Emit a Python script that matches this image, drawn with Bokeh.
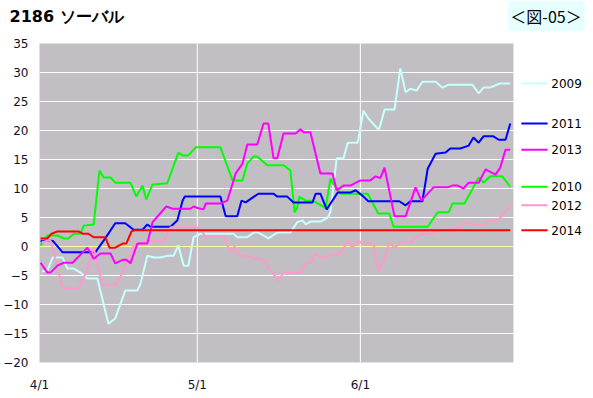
from bokeh.plotting import figure
from bokeh.models import Range1d, FixedTicker, BoxAnnotation, Label
from bokeh.embed import file_html
from bokeh.resources import INLINE
from bokeh.core.properties import value

TITLE = "2186 ソーバル"
FIG_LABEL = "＜図-05＞"
Y_TICKS = [-20, -15, -10, -5, 0, 5, 10, 15, 20, 25, 30, 35]
X_TICK_DAYS = [0, 30, 61]
X_TICK_LABELS = ["4/1", "5/1", "6/1"]
X_LAST_DAY = 90.1  # right edge of the data area (days since 4/1)

# days since 4/1 and values, per year
d2009 = [0.5, 1.5, 2.5, 4.4, 5.3, 6.5, 7.8, 9.1, 11.0, 13.1, 14.4, 16.3, 18.6, 19.2, 20.5, 21.7, 23.0, 24.3, 25.5, 26.4,
         27.4, 28.3, 29.3, 30.6, 36.9, 37.6, 39.5, 40.7, 41.6, 43.5, 45.2, 47.7, 49.0, 50.0, 50.6, 51.5, 53.4, 54.8, 55.3, 56.5,
         57.8, 58.6, 60.5, 61.6, 62.5, 64.3, 64.6, 65.6, 67.5, 68.6, 69.6, 70.5, 71.7, 72.8, 75.3, 76.6, 77.8, 82.3, 83.5, 84.4,
         85.7, 86.7, 87.6, 89.5]
v2009 = [-4.3, -4.1, -1.9, -1.9, -3.8, -3.8, -4.5, -5.5, -5.5, -13.3, -12.4, -7.6, -7.6, -6.4, -1.6, -1.9, -1.9, -1.6, -1.6, 0.2,
         -3.3, -3.3, 1.6, 2.2, 2.2, 1.6, 1.6, 2.4, 2.4, 1.4, 2.4, 2.4, 4.2, 4.5, 3.8, 4.3, 4.3, 5.0, 5.9, 15.2,
         15.2, 17.9, 17.9, 23.4, 22.1, 20.3, 20.3, 23.6, 23.6, 30.7, 26.6, 27.2, 26.9, 28.4, 28.4, 27.4, 27.9, 27.9, 26.4, 27.4,
         27.4, 27.8, 28.1, 28.1]

d2010 = [0.2, 1.5, 3.4, 4.6, 5.5, 6.5, 7.8, 8.4, 10.3, 11.4, 12.2, 13.5, 14.4, 17.3, 18.4, 19.6, 20.3, 21.5, 24.3, 26.4,
         27.2, 28.3, 29.7, 34.4, 36.7, 38.6, 39.5, 40.7, 41.4, 43.3, 46.4, 47.7, 48.5, 49.0, 49.4, 50.6, 51.9, 53.0, 54.4, 55.3,
         56.3, 57.2, 62.4, 64.4, 66.5, 67.3, 73.8, 75.7, 77.8, 78.5, 80.8, 83.5, 84.4, 85.7, 88.0, 89.5]
v2010 = [0.2, 1.9, 1.9, 1.4, 1.4, 2.2, 2.2, 3.6, 3.8, 13.1, 11.9, 11.9, 11.0, 11.0, 8.6, 10.5, 8.1, 10.7, 10.9, 16.2,
         15.7, 15.7, 17.1, 17.1, 11.4, 11.4, 14.3, 15.5, 15.5, 14.0, 14.0, 13.1, 5.9, 6.7, 8.6, 7.9, 7.9, 7.4, 6.6, 11.7,
         10.2, 9.1, 9.1, 5.7, 5.7, 3.4, 3.4, 5.9, 5.9, 7.4, 7.4, 11.9, 11.0, 12.1, 12.1, 10.3]

d2011 = [0.2, 2.5, 4.4, 10.6, 12.5, 14.4, 16.3, 17.9, 19.6, 20.5, 21.1, 24.9, 26.2, 27.2, 27.6, 34.4, 35.4, 37.6, 38.4, 39.2,
         41.6, 44.5, 45.2, 47.1, 48.3, 51.9, 52.5, 53.4, 54.6, 56.7, 59.1, 60.1, 61.6, 62.5, 68.4, 69.6, 70.5, 72.8, 73.8, 75.3,
         77.2, 78.1, 80.0, 81.6, 82.5, 83.5, 84.4, 86.3, 87.3, 88.6, 89.5]
v2011 = [0.9, 1.0, -1.0, -1.0, 1.4, 4.0, 4.0, 2.9, 2.9, 3.8, 3.4, 3.4, 4.5, 7.9, 8.6, 8.6, 5.2, 5.2, 7.9, 7.6,
         9.1, 9.1, 8.6, 8.6, 7.6, 7.6, 9.1, 9.1, 6.4, 9.3, 9.3, 9.7, 8.6, 7.8, 7.8, 7.1, 7.8, 7.8, 13.4, 16.0,
         16.2, 16.9, 16.9, 17.4, 18.8, 17.9, 19.0, 19.0, 18.4, 18.4, 21.2]

d2012 = [0.4, 1.5, 2.1, 2.5, 3.4, 4.4, 7.4, 8.4, 9.3, 10.3, 11.2, 12.0, 14.4, 15.3, 16.9, 17.9, 18.8, 19.8, 23.6, 24.9,
         30.0, 31.0, 31.6, 35.0, 36.3, 37.1, 38.0, 39.9, 40.7, 42.2, 44.3, 45.4, 46.4, 49.6, 50.6, 51.5, 52.5, 53.4, 54.7, 55.3,
         56.7, 57.6, 58.6, 59.5, 60.5, 61.4, 63.5, 64.4, 65.6, 66.5, 67.5, 68.6, 70.5, 71.7, 73.0, 74.7, 76.2, 78.1, 79.7, 80.6,
         81.6, 82.5, 84.8, 85.4, 87.1, 88.0, 89.5]
v2012 = [0.7, 1.0, 1.0, -0.2, -3.6, -7.2, -7.2, -5.5, -3.3, -0.2, -3.8, -6.7, -6.7, -5.5, -2.1, 0.2, 0.2, 0.9, 0.9, 3.3,
         3.3, 2.4, 1.7, 1.7, -1.0, 0.0, -1.6, -1.6, -2.1, -2.1, -4.5, -5.9, -4.5, -4.5, -2.9, -2.9, -1.2, -1.9, -1.9, -1.4,
         -1.4, -0.7, 0.9, -0.2, 1.0, 0.5, 0.5, -4.3, -2.0, 0.7, -0.3, 0.7, 0.7, 1.7, 2.2, 2.2, 2.9, 2.9, 3.3, 4.0,
         4.0, 3.8, 3.8, 4.5, 4.5, 5.3, 7.1]

d2013 = [0.2, 1.5, 2.1, 3.4, 4.6, 6.3, 9.1, 10.3, 11.6, 13.5, 14.4, 15.8, 16.5, 17.3, 18.6, 20.5, 21.5, 24.1, 25.3, 28.7,
         29.3, 30.2, 31.2, 31.6, 34.4, 35.7, 37.3, 38.6, 39.5, 41.4, 42.6, 43.5, 44.5, 45.2, 46.4, 48.7, 49.6, 50.2, 51.5, 53.4,
         55.7, 56.5, 57.8, 59.1, 61.0, 62.9, 63.9, 64.8, 65.6, 67.5, 69.6, 71.5, 72.6, 74.9, 77.6, 78.5, 79.5, 80.6, 81.6, 83.5,
         84.8, 86.7, 87.6, 88.6, 89.5]
v2013 = [-2.8, -4.5, -4.5, -3.3, -2.8, -2.8, -0.2, -2.1, -1.2, -1.2, -2.9, -2.3, -2.3, -2.9, 0.5, 0.5, 4.2, 6.9, 6.5, 6.5,
         6.9, 6.6, 6.4, 7.4, 7.4, 7.9, 12.6, 14.3, 17.6, 17.6, 21.2, 21.2, 15.2, 15.2, 19.5, 19.5, 20.2, 19.7, 19.7, 12.6,
         12.6, 9.7, 10.5, 10.5, 11.4, 11.4, 12.1, 11.8, 13.6, 5.2, 5.2, 10.2, 7.9, 10.2, 10.2, 10.5, 10.5, 10.0, 11.0, 11.0,
         13.3, 12.4, 13.6, 16.7, 16.7]

d2014 = [0.2, 1.5, 2.3, 3.4, 7.4, 8.2, 9.3, 10.3, 12.5, 13.3, 14.4, 15.8, 16.5, 17.5, 18.0, 89.5]
v2014 = [1.4, 1.4, 2.2, 2.6, 2.6, 2.2, 2.2, 1.6, 1.6, -0.2, -0.2, 0.5, 0.5, 2.6, 2.8, 2.8]

SERIES = {
    "2009": (d2009, v2009, "#C8FFFF"),
    "2010": (d2010, v2010, "#00FF00"),
    "2011": (d2011, v2011, "#0000FF"),
    "2012": (d2012, v2012, "#FF99CC"),
    "2013": (d2013, v2013, "#FF00FF"),
    "2014": (d2014, v2014, "#FF0000"),
}
LEGEND_ORDER = ["2009", "2011", "2013", "2010", "2012", "2014"]

PX_PER_DAY = 5.26
PX_PER_UNIT = 5.8
W, H = 593, 398
X0_PX = 39          # pixel position of day 0 (left edge of data area)
Y_BOTTOM_PX = 362   # pixel position of -20
MB = 26             # space for the date axis
x_start = -X0_PX / PX_PER_DAY
x_end = (W - X0_PX) / PX_PER_DAY
y_start = -20 - (H - MB - Y_BOTTOM_PX) / PX_PER_UNIT
y_top = -20 + Y_BOTTOM_PX / PX_PER_UNIT

p = figure(width=W, height=H, output_backend="svg", toolbar_location=None,
           x_range=Range1d(x_start, x_end), y_range=Range1d(y_start, y_top),
           min_border_left=0, min_border_right=0, min_border_top=0, min_border_bottom=MB)
p.background_fill_color = "white"
p.border_fill_color = "white"
p.outline_line_color = None
p.xgrid.visible = False
p.ygrid.visible = False

p.add_layout(BoxAnnotation(left=0, right=X_LAST_DAY, bottom=Y_TICKS[0], top=Y_TICKS[-1],
                           fill_color="#C1BFC3", fill_alpha=1, line_color=None, level="underlay"))

# grid lines
gy = [t for t in Y_TICKS[1:-1] if t != 0]
p.segment(x0=[0] * len(gy), y0=gy, x1=[X_LAST_DAY] * len(gy), y1=gy, line_color="white", line_width=1)
gx = X_TICK_DAYS[1:]
p.segment(x0=gx, y0=[Y_TICKS[0]] * len(gx), x1=gx, y1=[Y_TICKS[-1]] * len(gx), line_color="white", line_width=1)
p.segment(x0=[0], y0=[0], x1=[X_LAST_DAY], y1=[0], line_color="#FFFFA0", line_width=1)

for name in ["2009", "2010", "2011", "2012", "2013", "2014"]:
    d, v, c = SERIES[name]
    p.line(d, v, line_color=c, line_width=2)

# end-of-line legend
lx0, lx1, tx = 91.6, 96.6, 97.3
ly = [SERIES[n][1][-1] for n in LEGEND_ORDER]
lc = [SERIES[n][2] for n in LEGEND_ORDER]
p.segment(x0=[lx0] * 6, y0=ly, x1=[lx1] * 6, y1=ly, line_color=lc, line_width=2)
p.text(x=[tx] * 6, y=ly, text=LEGEND_ORDER, text_font=value("DejaVu Sans"), text_font_size="12px",
       text_baseline="middle", text_align="left", text_color="#000000")

# axes
p.yaxis.ticker = FixedTicker(ticks=Y_TICKS)
p.yaxis.fixed_location = 0
p.xaxis.ticker = FixedTicker(ticks=X_TICK_DAYS)
p.xaxis.major_label_overrides = {d: l for d, l in zip(X_TICK_DAYS, X_TICK_LABELS)}
for ax in (p.xaxis[0], p.yaxis[0]):
    ax.axis_line_color = None
    ax.major_tick_line_color = None
    ax.minor_tick_line_color = None
    ax.major_tick_out = 0
    ax.major_tick_in = 0
    ax.major_label_text_font = "DejaVu Sans"
    ax.major_label_text_font_size = "12px"
    ax.major_label_text_color = "#101028"
p.yaxis.major_label_standoff = 11
p.xaxis.major_label_standoff = 5

title_y = 35 + (43 - 15.5) / PX_PER_UNIT
p.add_layout(Label(x=(9 - X0_PX) / PX_PER_DAY, y=title_y, text=TITLE, text_font="DejaVu Sans",
                   text_font_size="16px", text_font_style="bold", text_baseline="middle",
                   text_align="left", text_color="#000000"))
p.add_layout(Label(x=(545.5 - X0_PX) / PX_PER_DAY, y=title_y, text=FIG_LABEL, text_font="Noto Sans CJK JP",
                   text_font_size="16px", text_baseline="middle", text_align="center",
                   text_color="#000000", background_fill_color="#E6FFFF", padding=3))

open("out.html", "w").write(file_html(p, INLINE))
